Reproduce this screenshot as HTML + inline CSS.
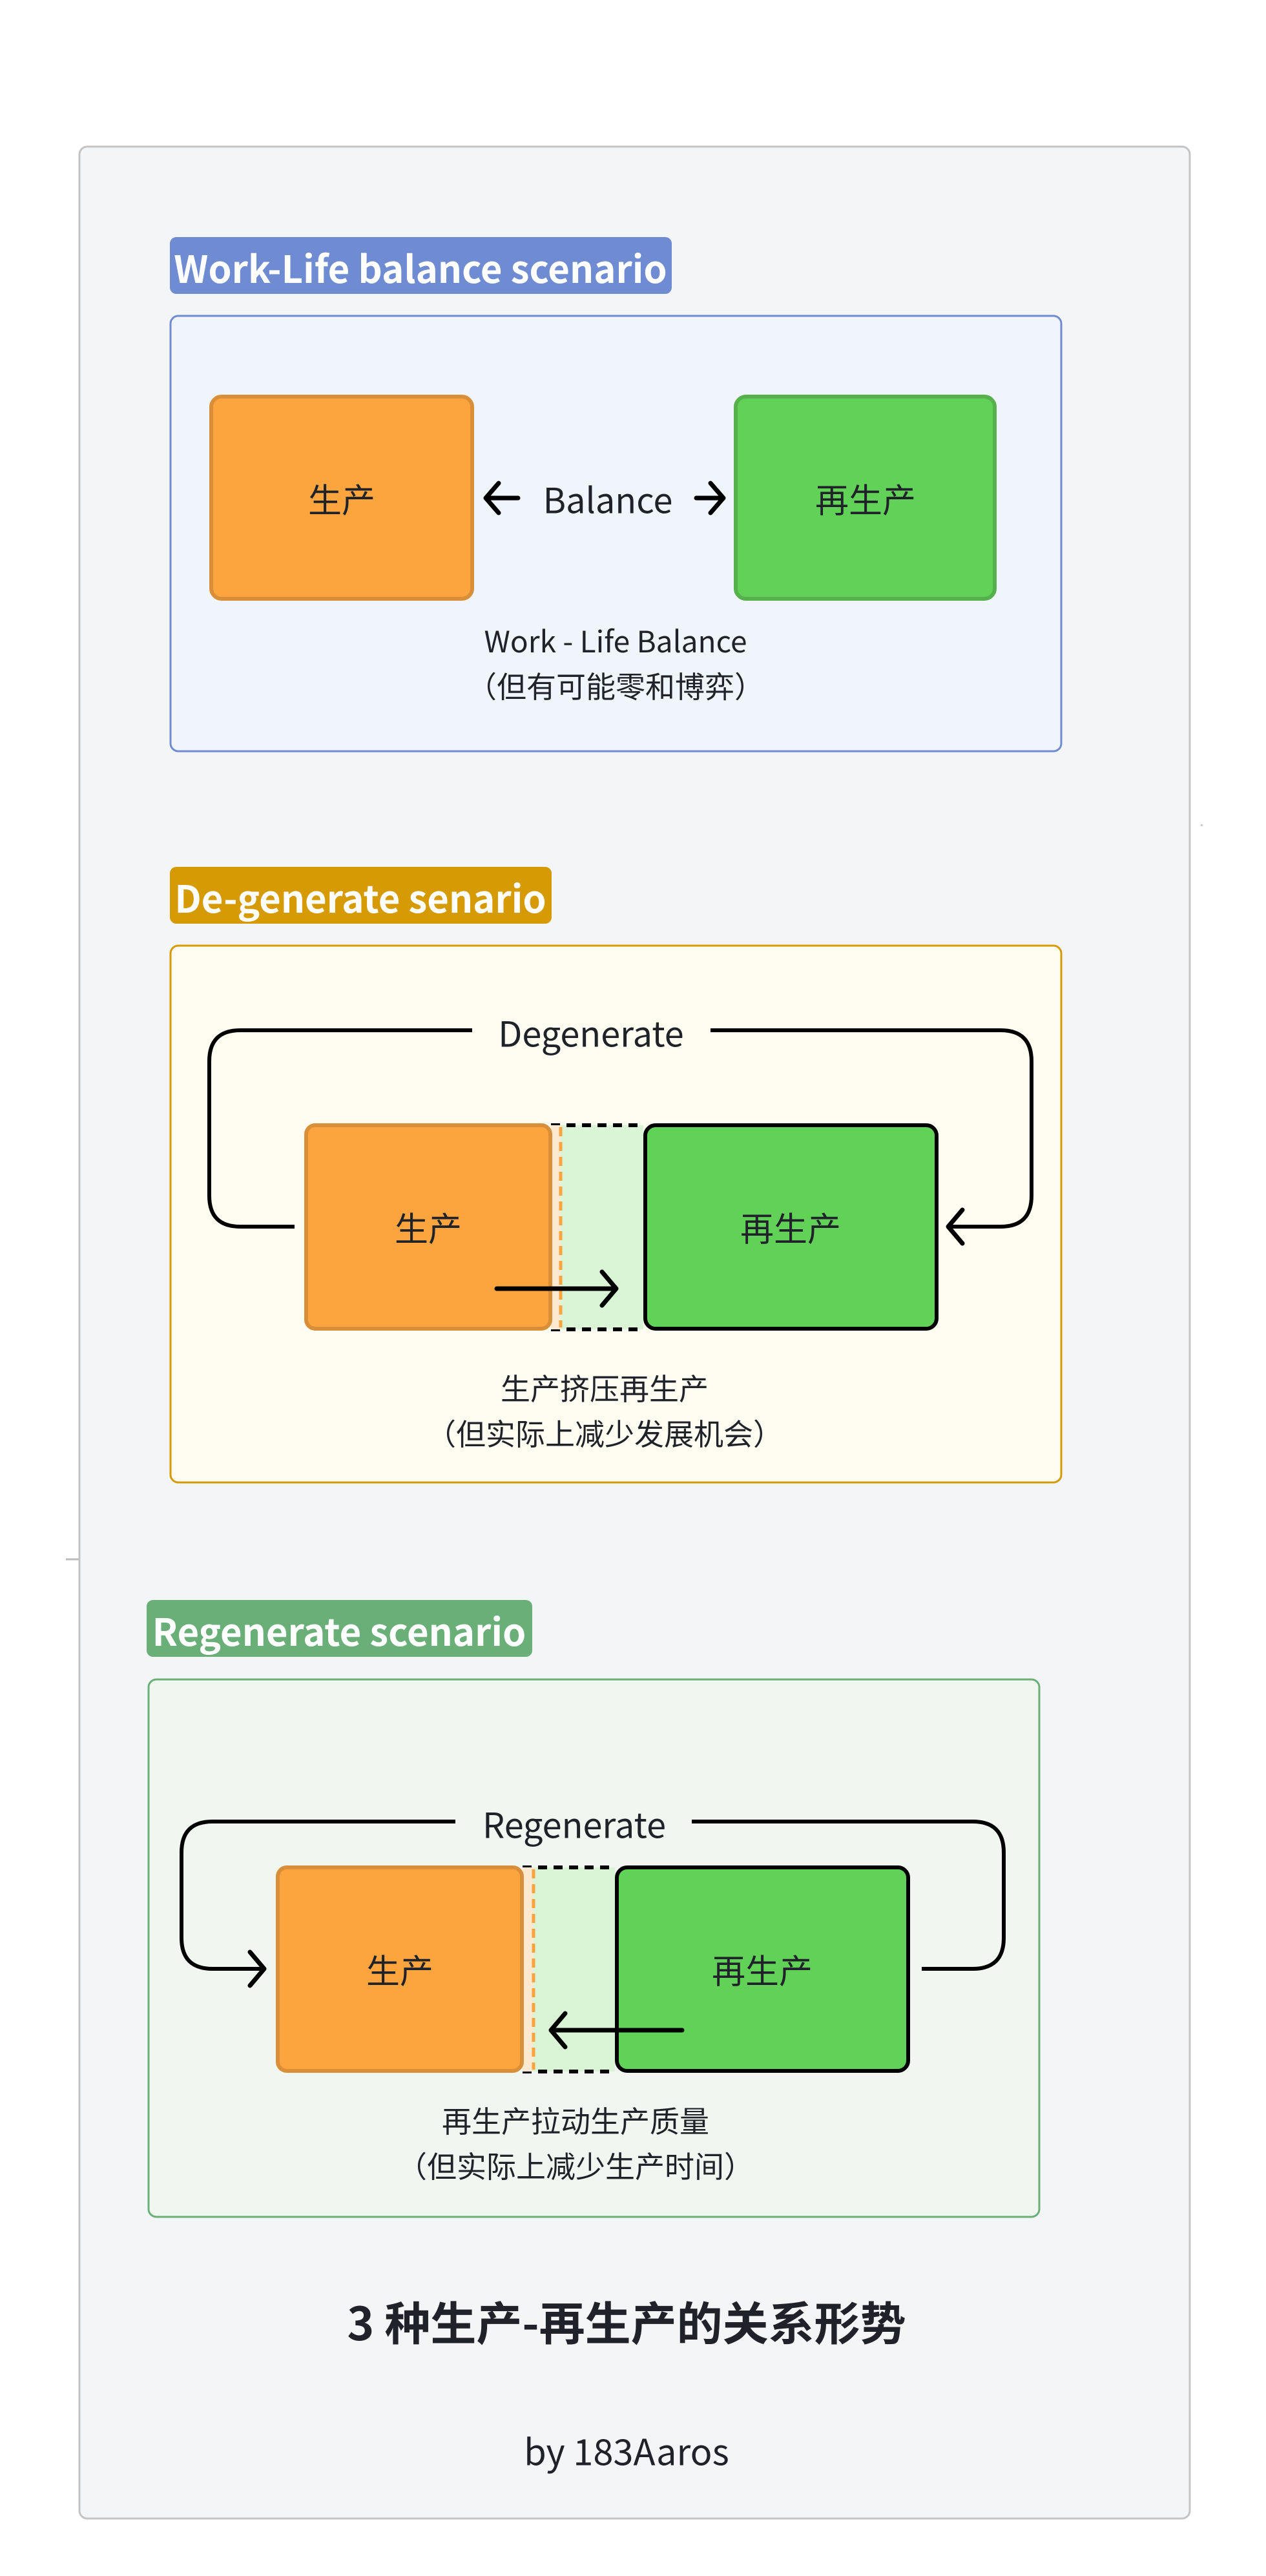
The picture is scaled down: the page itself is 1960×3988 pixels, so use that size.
<!DOCTYPE html>
<html><head><meta charset="utf-8"><style>
html,body{margin:0;padding:0;background:#fff;}
svg{display:block;}
text{font-family:"Noto Sans CJK SC","Liberation Sans",sans-serif;fill:#1f2329;}
</style></head><body>
<svg width="1960" height="3988" viewBox="0 0 1960 3988" xmlns="http://www.w3.org/2000/svg">
<rect x="0" y="0" width="1960" height="3988" fill="#fff"/>
<rect x="123" y="227" width="1719" height="3672" rx="12" fill="#f4f5f7" stroke="#c4c4c4" stroke-width="3"/>
<line x1="102" y1="2414" x2="122" y2="2414" stroke="#bbb" stroke-width="3"/>
<rect x="1859" y="1276" width="3" height="3" fill="#ccc"/>

<!-- Section 1 -->
<rect x="263" y="367" width="777" height="88" rx="10" fill="#6f8cd3"/>
<text x="651" y="413" text-anchor="middle" dominant-baseline="central" font-size="58" font-weight="bold" style="fill:#fff">Work-Life balance scenario</text>
<rect x="264" y="489" width="1379" height="674" rx="12" fill="#f0f4fb" stroke="#6f8cd3" stroke-width="3"/>
<rect x="327" y="614" width="404" height="313" rx="16" fill="#fca43e" stroke="#d98f3a" stroke-width="6"/>
<text x="529" y="771" text-anchor="middle" dominant-baseline="central" font-size="52">生产</text>
<rect x="1139" y="614" width="401" height="313" rx="16" fill="#62d158" stroke="#56b04c" stroke-width="6"/>
<text x="1340" y="771" text-anchor="middle" dominant-baseline="central" font-size="52">再生产</text>
<text x="941" y="771" text-anchor="middle" dominant-baseline="central" font-size="54">Balance</text>
<path d="M802 771 H752 M772 748 L752 771 L772 794" fill="none" stroke="#000" stroke-width="7" stroke-linecap="round" stroke-linejoin="round"/>
<path d="M1078 771 H1120 M1100 748 L1120 771 L1100 794" fill="none" stroke="#000" stroke-width="7" stroke-linecap="round" stroke-linejoin="round"/>
<text x="953" y="991" text-anchor="middle" dominant-baseline="central" font-size="46">Work - Life Balance</text>
<text x="953" y="1061" text-anchor="middle" dominant-baseline="central" font-size="46">（但有可能零和博弈）</text>

<!-- Section 2 -->
<rect x="263" y="1342" width="591" height="88" rx="10" fill="#d69a05"/>
<text x="558" y="1388" text-anchor="middle" dominant-baseline="central" font-size="58" font-weight="bold" style="fill:#fff">De-generate senario</text>
<rect x="264" y="1464" width="1379" height="831" rx="12" fill="#fffdf1" stroke="#d69a05" stroke-width="3"/>
<rect x="853" y="1742" width="143" height="316" fill="#d9f5d6"/>
<line x1="853" y1="1742" x2="996" y2="1742" stroke="#000" stroke-width="6" stroke-dasharray="14 10"/>
<line x1="853" y1="2058" x2="996" y2="2058" stroke="#000" stroke-width="6" stroke-dasharray="14 10"/>
<rect x="853" y="1742" width="15" height="316" fill="#fde8d0"/>
<rect x="474" y="1742" width="378" height="315" rx="14" fill="#fca43e" stroke="#d98f3a" stroke-width="6"/>
<line x1="868" y1="1745" x2="868" y2="2055" stroke="#fca43e" stroke-width="5" stroke-dasharray="14 9"/>
<rect x="999" y="1742" width="451" height="315" rx="16" fill="#62d158" stroke="#000" stroke-width="6"/>
<text x="663" y="1899" text-anchor="middle" dominant-baseline="central" font-size="52">生产</text>
<text x="1224" y="1899" text-anchor="middle" dominant-baseline="central" font-size="52">再生产</text>
<path d="M456 1899 H372 Q324 1899 324 1851 V1643 Q324 1595 372 1595 H731" fill="none" stroke="#000" stroke-width="6"/>
<path d="M1100 1595 H1549 Q1597 1595 1597 1643 V1851 Q1597 1899 1549 1899 H1468" fill="none" stroke="#000" stroke-width="6"/>
<path d="M1490 1873 L1468 1899 L1490 1925" fill="none" stroke="#000" stroke-width="7" stroke-linecap="round" stroke-linejoin="round"/>
<text x="915" y="1597" text-anchor="middle" dominant-baseline="central" font-size="54">Degenerate</text>
<path d="M769 1995 H954 M932 1969 L954 1995 L932 2021" fill="none" stroke="#000" stroke-width="7" stroke-linecap="round" stroke-linejoin="round"/>
<text x="936" y="2148" text-anchor="middle" dominant-baseline="central" font-size="46">生产挤压再生产</text>
<text x="936" y="2218" text-anchor="middle" dominant-baseline="central" font-size="46">（但实际上减少发展机会）</text>

<!-- Section 3 -->
<rect x="227" y="2477" width="597" height="88" rx="10" fill="#6aaf78"/>
<text x="525" y="2523" text-anchor="middle" dominant-baseline="central" font-size="58" font-weight="bold" style="fill:#fff">Regenerate scenario</text>
<rect x="230" y="2600" width="1379" height="832" rx="12" fill="#f1f7f0" stroke="#6aaf78" stroke-width="3"/>
<rect x="809" y="2891" width="143" height="316" fill="#d9f5d6"/>
<line x1="809" y1="2891" x2="952" y2="2891" stroke="#000" stroke-width="6" stroke-dasharray="14 10"/>
<line x1="809" y1="3207" x2="952" y2="3207" stroke="#000" stroke-width="6" stroke-dasharray="14 10"/>
<rect x="809" y="2891" width="17" height="316" fill="#fde8d0"/>
<rect x="430" y="2891" width="378" height="315" rx="14" fill="#fca43e" stroke="#d98f3a" stroke-width="6"/>
<line x1="826" y1="2894" x2="826" y2="3204" stroke="#fca43e" stroke-width="5" stroke-dasharray="14 9"/>
<rect x="955" y="2891" width="451" height="315" rx="16" fill="#62d158" stroke="#000" stroke-width="6"/>
<text x="619" y="3048" text-anchor="middle" dominant-baseline="central" font-size="52">生产</text>
<text x="1180" y="3048" text-anchor="middle" dominant-baseline="central" font-size="52">再生产</text>
<path d="M705 2820 H329 Q281 2820 281 2868 V3000 Q281 3048 329 3048 H409" fill="none" stroke="#000" stroke-width="6"/>
<path d="M387 3022 L409 3048 L387 3074" fill="none" stroke="#000" stroke-width="7" stroke-linecap="round" stroke-linejoin="round"/>
<path d="M1071 2820 H1506 Q1554 2820 1554 2868 V3000 Q1554 3048 1506 3048 H1427" fill="none" stroke="#000" stroke-width="6"/>
<text x="889" y="2822" text-anchor="middle" dominant-baseline="central" font-size="54">Regenerate</text>
<path d="M1056 3143 H853 M875 3117 L853 3143 L875 3169" fill="none" stroke="#000" stroke-width="7" stroke-linecap="round" stroke-linejoin="round"/>
<text x="891" y="3282" text-anchor="middle" dominant-baseline="central" font-size="46">再生产拉动生产质量</text>
<text x="891" y="3352" text-anchor="middle" dominant-baseline="central" font-size="46">（但实际上减少生产时间）</text>

<!-- Title -->
<text x="970" y="3593" text-anchor="middle" dominant-baseline="central" font-size="71" font-weight="bold">3 种生产-再生产的关系形势</text>
<text x="970" y="3793" text-anchor="middle" dominant-baseline="central" font-size="56">by 183Aaros</text>
</svg>
</body></html>
